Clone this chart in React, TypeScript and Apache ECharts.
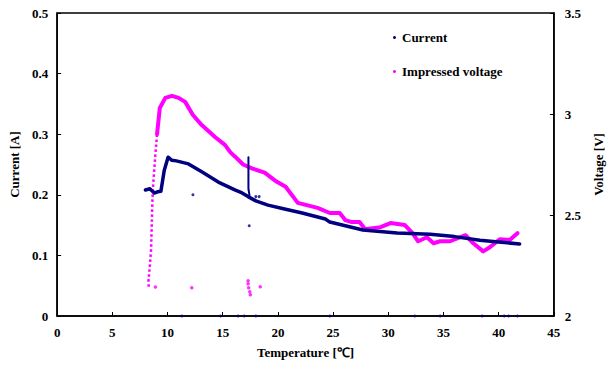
import React, { useEffect, useRef } from "react";
import * as echarts from "echarts";

// Temperature [°C] -> Current [A], main trace
const currentT = [8.0, 8.4, 8.8, 9.1, 9.4, 9.7, 10.05, 10.4, 10.8, 11.9, 13.1, 14.6, 16.1, 16.75, 17.3, 18.0, 19.1, 20.5, 22.2, 24.3, 24.7, 27.7, 30.8, 33.8, 36.0, 38.3, 40.0, 41.9];
const currentA = [0.208, 0.21, 0.203, 0.205, 0.206, 0.24, 0.262, 0.257, 0.256, 0.251, 0.238, 0.221, 0.208, 0.203, 0.197, 0.19, 0.183, 0.177, 0.17, 0.16, 0.155, 0.142, 0.137, 0.135, 0.131, 0.125, 0.122, 0.119];

// current spike near 17.3 °C
const spikeT = [17.33, 17.33, 17.42, 17.4];
const spikeA = [0.262, 0.21, 0.2, 0.196];

// stray current readings
const strayCurT = [12.3, 17.4, 18.0, 18.3, 11.3, 14.8, 16.4, 16.95, 18.0, 24.7, 32.4, 34.7, 38.5, 40.5, 40.9, 41.7];
const strayCurA = [0.2, 0.149, 0.197, 0.197, 0, 0, 0, 0, 0, 0, 0, 0, 0, 0, 0, 0];

// Impressed voltage: sparse rising part
const riseT = [8.3, 8.27, 8.4, 8.51, 8.63, 8.7, 8.9, 9.05];
const riseV = [2.145, 2.17, 2.25, 2.33, 2.57, 2.65, 2.8, 2.9];

// Impressed voltage: main trace
const voltT = [9.05, 9.3, 9.8, 10.4, 11.0, 11.6, 12.3, 13.1, 14.3, 15.2, 15.7, 16.1, 16.85, 17.7, 18.8, 19.75, 20.7, 21.8, 23.6, 24.7, 25.6, 26.1, 26.7, 27.4, 27.9, 29.3, 30.2, 31.5, 32.2, 32.7, 33.5, 34.1, 34.7, 35.6, 37.0, 37.7, 38.6, 39.2, 40.1, 41.0, 41.7];
const voltV = [2.9, 3.03, 3.08, 3.09, 3.08, 3.06, 2.995, 2.945, 2.886, 2.847, 2.81, 2.79, 2.75, 2.73, 2.71, 2.67, 2.64, 2.56, 2.535, 2.51, 2.51, 2.475, 2.465, 2.465, 2.43, 2.44, 2.46, 2.45, 2.41, 2.37, 2.39, 2.36, 2.37, 2.37, 2.4, 2.36, 2.32, 2.34, 2.38, 2.376, 2.41];

// stray voltage readings
const strayVoltT = [8.9, 12.2, 17.3, 17.3, 17.35, 17.45, 17.5, 18.4];
const strayVoltV = [2.144, 2.14, 2.175, 2.16, 2.14, 2.12, 2.105, 2.145];

const xTicks = { min: 0, max: 45, interval: 5 };
const curTicks = { min: 0, max: 0.5, interval: 0.1 };
const voltTicks = { min: 2, max: 3.5, interval: 0.5 };

const zip = (a: number[], b: number[]) => a.map((v, i) => [v, b[i]]);

const NAVY = "#000080";
const MAG = "#ff00ff";
const FONT = "'Liberation Serif', 'Times New Roman', Times, serif";

export default function App() {
  const ref = useRef<HTMLDivElement>(null);
  useEffect(() => {
    if (!ref.current) return;
    const chart = echarts.init(ref.current, undefined, { renderer: "svg" });
    const label = { color: "#000", fontFamily: FONT, fontWeight: "bold" as const, fontSize: 13 };
    const axisCommon = {
      axisLine: { show: true, lineStyle: { color: "#000", width: 1.5 } },
      axisTick: { show: true, inside: true, length: 4, lineStyle: { color: "#000", width: 1 } },
      splitLine: { show: false },
      axisLabel: { ...label },
      nameTextStyle: { ...label },
    };
    chart.setOption({
      animation: false,
      grid: { left: 57, right: 58, top: 13, bottom: 49, show: true, borderColor: "#000", borderWidth: 1.5, backgroundColor: "transparent" },
      legend: {
        orient: "vertical",
        left: 388,
        top: 26,
        itemGap: 21,
        itemWidth: 3,
        itemHeight: 3,
        icon: "circle",
        data: ["Current", "Impressed voltage"],
        textStyle: { ...label, fontSize: 13, padding: [0, 0, 0, 1] },
      },
      xAxis: {
        type: "value",
        ...xTicks,
        ...axisCommon,
        axisLabel: { ...label, margin: 10 },
        name: "Temperature [℃]",
        nameLocation: "middle",
        nameGap: 30,
      },
      yAxis: [
        {
          type: "value",
          ...curTicks,
          ...axisCommon,
          axisLabel: { ...label, margin: 9 },
          name: "Current [A]",
          nameLocation: "middle",
          nameGap: 33,
          nameRotate: 90,
        },
        {
          type: "value",
          position: "right",
          ...voltTicks,
          ...axisCommon,
          axisLabel: { ...label, margin: 11 },
          name: "Voltage [V]",
          nameLocation: "middle",
          nameGap: 36,
          nameRotate: 90,
        },
      ],
      series: [
        {
          name: "Current",
          type: "line",
          yAxisIndex: 0,
          data: zip(currentT, currentA),
          showSymbol: false,
          symbol: "none",
          itemStyle: { color: NAVY },
          lineStyle: { color: NAVY, width: 3.5, cap: "round", join: "round" },
          z: 3,
        },
        {
          name: "Current",
          type: "line",
          yAxisIndex: 0,
          data: zip(spikeT, spikeA),
          symbol: "none",
          itemStyle: { color: NAVY },
          lineStyle: { color: NAVY, width: 2, cap: "round", join: "round" },
          z: 3,
        },
        {
          name: "Current",
          type: "scatter",
          yAxisIndex: 0,
          data: zip(strayCurT, strayCurA),
          symbol: "circle",
          symbolSize: 3,
          itemStyle: { color: NAVY },
          z: 4,
        },
        {
          name: "Impressed voltage",
          type: "line",
          yAxisIndex: 1,
          data: zip(voltT, voltV),
          symbol: "none",
          itemStyle: { color: MAG },
          lineStyle: { color: MAG, width: 4, cap: "round", join: "round" },
          z: 2,
        },
        {
          name: "Impressed voltage",
          type: "line",
          yAxisIndex: 1,
          data: zip(riseT, riseV),
          symbol: "none",
          itemStyle: { color: MAG },
          lineStyle: { color: MAG, width: 2.5, type: [2.5, 2.5] },
          z: 2,
        },
        {
          name: "Impressed voltage",
          type: "scatter",
          yAxisIndex: 1,
          data: zip(strayVoltT, strayVoltV),
          symbol: "circle",
          symbolSize: 3.5,
          itemStyle: { color: MAG },
          z: 2,
        },
      ],
    });
    return () => chart.dispose();
  }, []);
  return <div ref={ref} style={{ width: 613, height: 365, position: "absolute", left: 0, top: 0, background: "#fff" }} />;
}
